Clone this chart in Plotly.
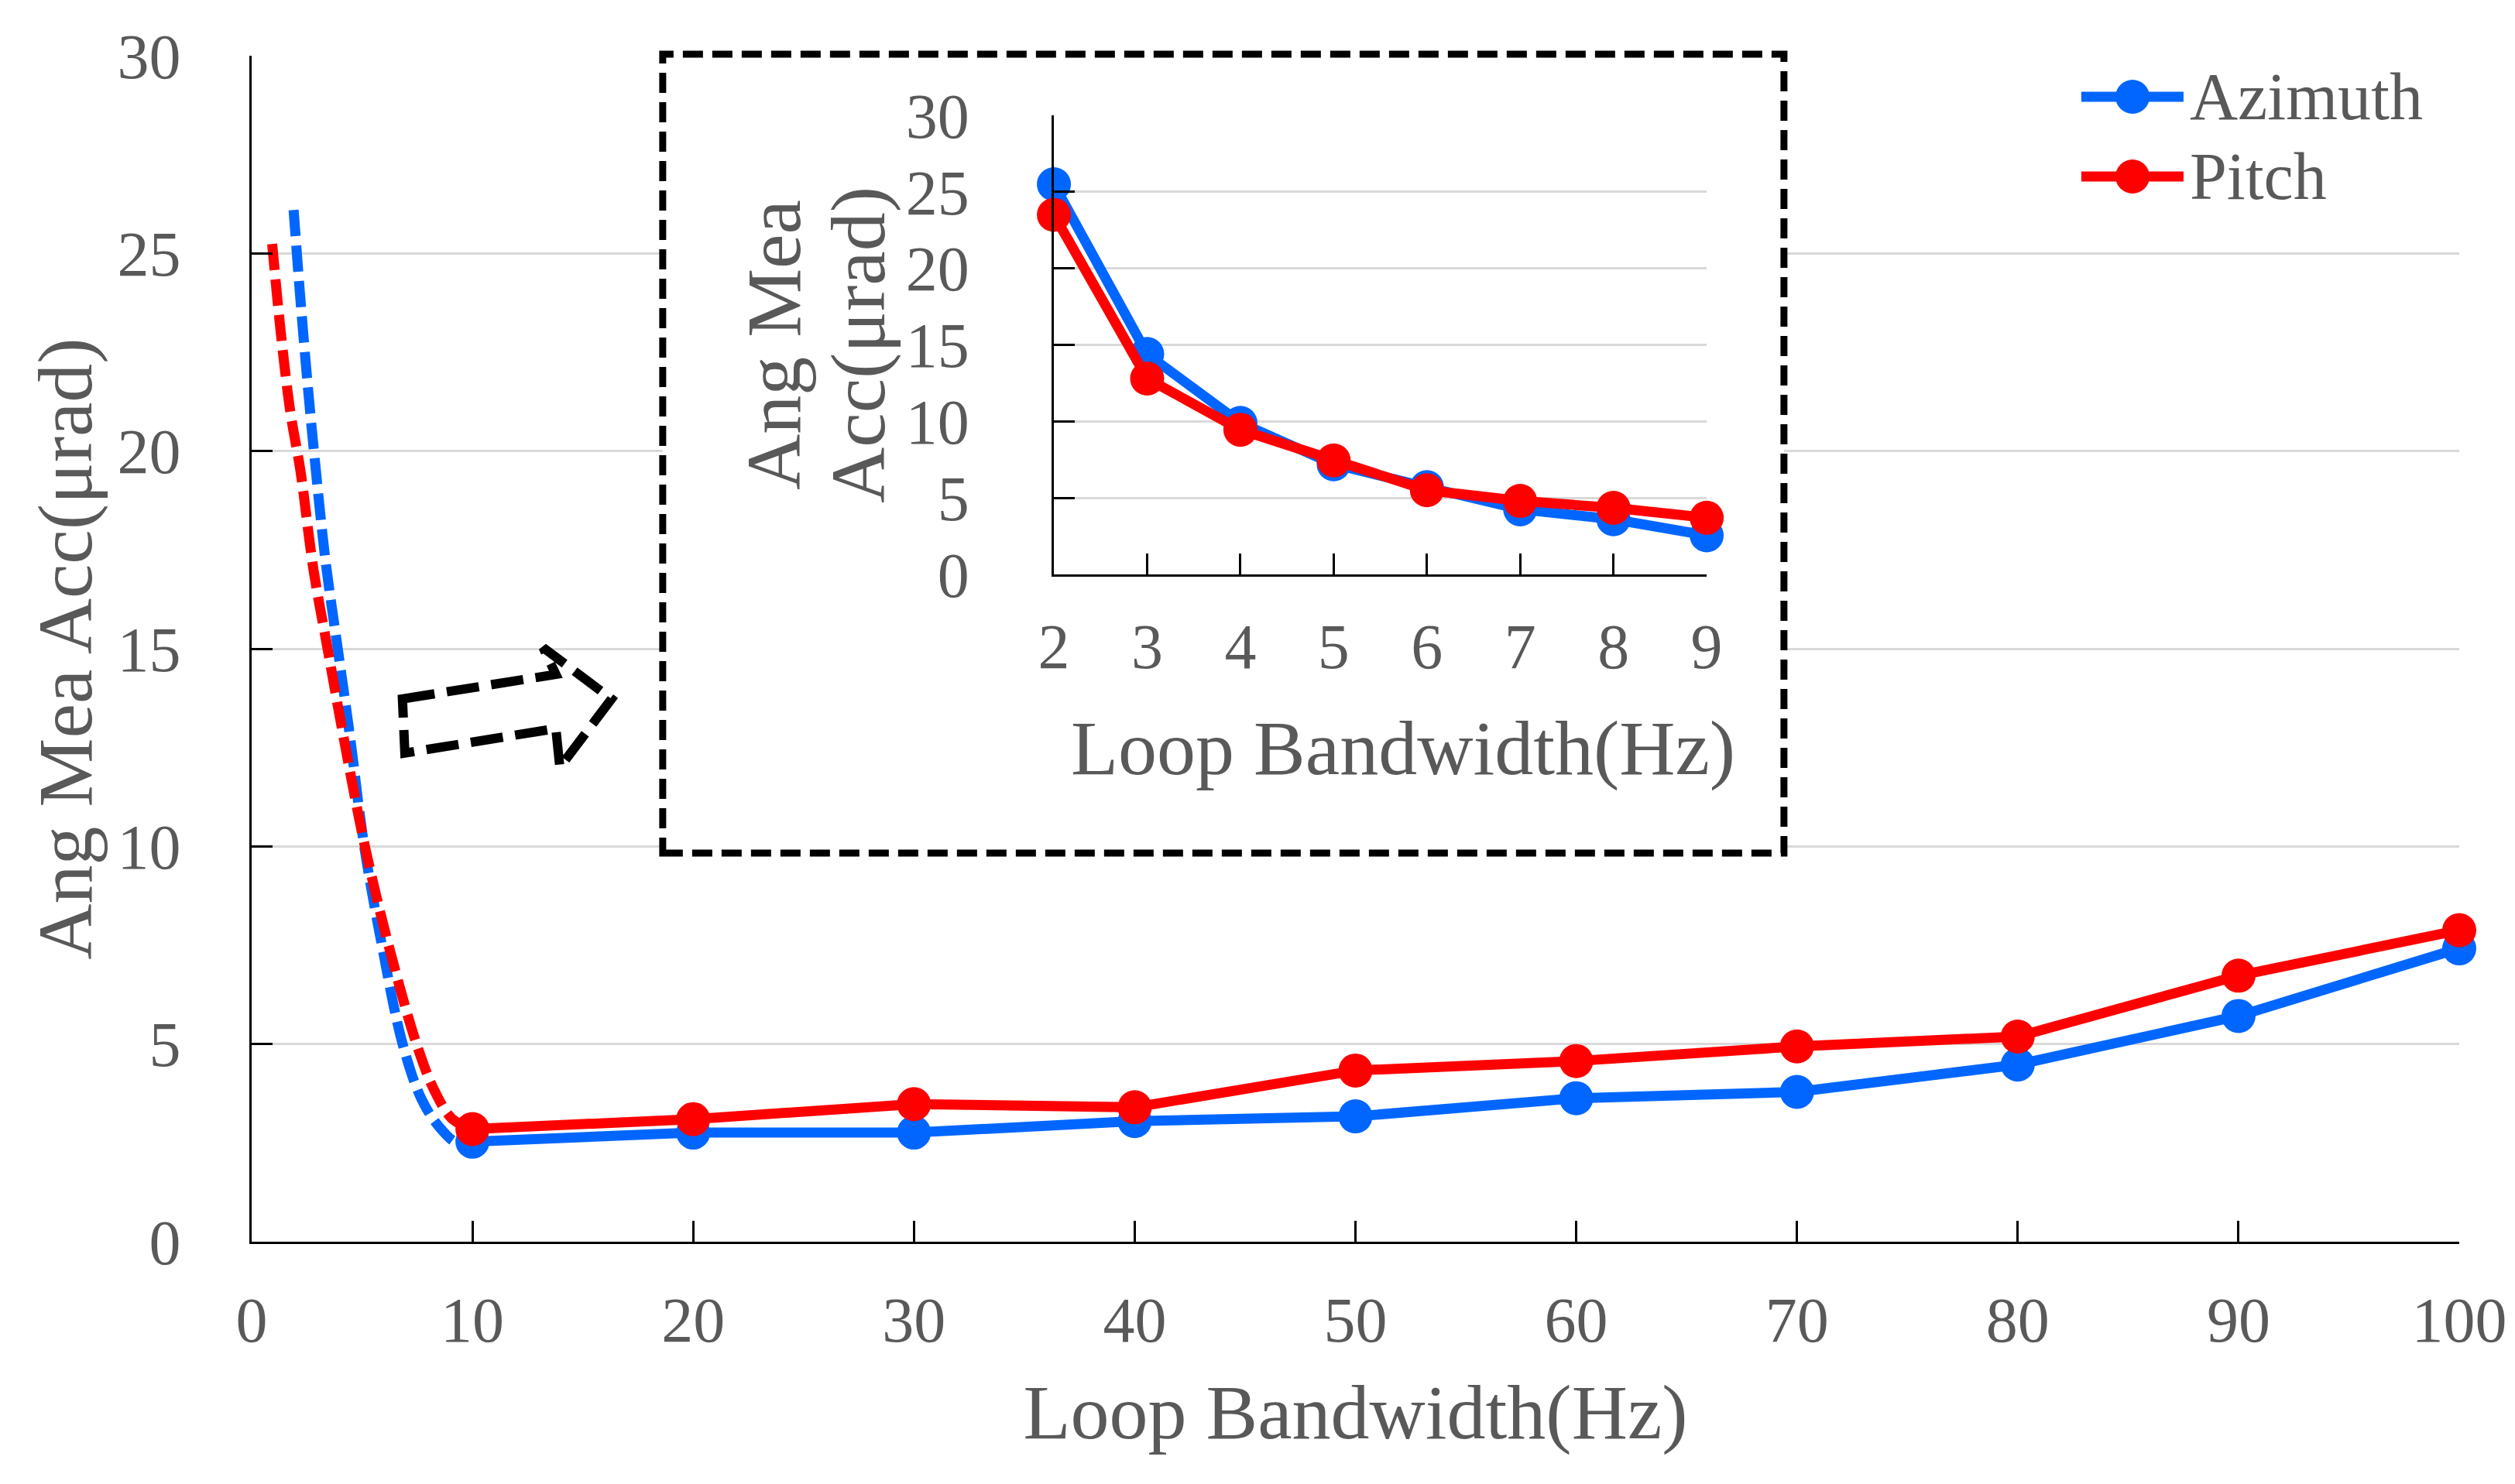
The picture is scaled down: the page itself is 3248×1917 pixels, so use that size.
import plotly.graph_objects as go

# ---------------- data ----------------
bw_main = [10, 20, 30, 40, 50, 60, 70, 80, 90, 100]
azimuth_main = [2.53, 2.76, 2.76, 3.05, 3.17, 3.63, 3.79, 4.48, 5.71, 7.42]
pitch_main = [2.85, 3.10, 3.48, 3.40, 4.33, 4.57, 4.94, 5.19, 6.73, 7.88]

bw_inset = [2, 3, 4, 5, 6, 7, 8, 9]
azimuth_inset = [25.5, 14.4, 9.9, 7.2, 5.7, 4.25, 3.6, 2.55]
pitch_inset = [23.5, 12.8, 9.45, 7.45, 5.5, 4.8, 4.35, 3.7]

# dashed low-bandwidth trend curves in the main panel
trend_az_x = [1.9, 2.2, 2.55, 2.91, 3.35, 3.9, 4.45, 5.1, 5.9, 6.84, 7.7, 8.5, 9.3, 10]
trend_az_y = [26.1, 23.9, 21.6, 19.5, 17.2, 15.0, 12.8, 10.0, 7.5, 5.0, 3.6, 2.9, 2.5, 2.53]
trend_pi_x = [0.93, 1.3, 1.75, 2.21, 2.8, 3.44, 4.25, 5.13, 6.2, 7.47, 8.3, 9.1, 10]
trend_pi_y = [25.24, 23.1, 21.0, 19.5, 17.0, 15.0, 12.5, 10.0, 7.5, 5.0, 3.8, 3.1, 2.85]

main_xticks = [0, 10, 20, 30, 40, 50, 60, 70, 80, 90, 100]
y_ticks = [0, 5, 10, 15, 20, 25, 30]
series_names = ["Azimuth", "Pitch"]

# ---------------- style ----------------
BLUE = "#0066FF"
RED = "#FF0000"
GRAY = "#595959"
FONT = "Liberation Serif"
LW = 13
MS = 44

fig = go.Figure()

# dashed trend curves
fig.add_trace(go.Scatter(x=trend_az_x, y=trend_az_y, mode="lines",
                         line=dict(color=BLUE, width=LW, dash="34px,12px", shape="spline"),
                         showlegend=False, hoverinfo="skip", cliponaxis=False))
fig.add_trace(go.Scatter(x=trend_pi_x, y=trend_pi_y, mode="lines",
                         line=dict(color=RED, width=LW, dash="34px,12px", shape="spline"),
                         showlegend=False, hoverinfo="skip", cliponaxis=False))

# main series
fig.add_trace(go.Scatter(x=bw_main, y=azimuth_main, mode="lines+markers", name=series_names[0],
                         line=dict(color=BLUE, width=LW), marker=dict(size=MS, color=BLUE),
                         showlegend=False, cliponaxis=False))
fig.add_trace(go.Scatter(x=bw_main, y=pitch_main, mode="lines+markers", name=series_names[1],
                         line=dict(color=RED, width=LW), marker=dict(size=MS, color=RED),
                         showlegend=False, cliponaxis=False))

# inset series
fig.add_trace(go.Scatter(x=bw_inset, y=azimuth_inset, mode="lines+markers", name=series_names[0],
                         line=dict(color=BLUE, width=LW), marker=dict(size=MS, color=BLUE),
                         xaxis="x2", yaxis="y2", showlegend=False, cliponaxis=False))
fig.add_trace(go.Scatter(x=bw_inset, y=pitch_inset, mode="lines+markers", name=series_names[1],
                         line=dict(color=RED, width=LW), marker=dict(size=MS, color=RED),
                         xaxis="x2", yaxis="y2", showlegend=False, cliponaxis=False))

tickfont = dict(family=FONT, size=82, color=GRAY)
titlefont = dict(family=FONT, size=100, color=GRAY)

fig.update_layout(
    width=3248, height=1917,
    margin=dict(l=317, r=80, t=64, b=321),
    paper_bgcolor="white", plot_bgcolor="white",
    showlegend=False,
    xaxis=dict(range=[0, 100], tickvals=main_xticks, ticks="inside", ticklen=27, tickwidth=3,
               tickcolor="black", showline=True, linecolor="black", linewidth=3,
               showgrid=False, zeroline=False, tickfont=tickfont, ticklabelstandoff=28,
               title=dict(text="Loop Bandwidth(Hz)", font=titlefont, standoff=38),
               automargin=False),
    yaxis=dict(range=[0, 30], tickvals=y_ticks, ticks="inside", ticklen=27, tickwidth=3,
               tickcolor="black", showline=True, linecolor="black", linewidth=3,
               showgrid=True, gridcolor="#d9d9d9", gridwidth=3, zeroline=False,
               tickfont=tickfont, ticklabelstandoff=72,
               title=dict(text="Ang Mea Acc(μrad)", font=titlefont, standoff=0),
               automargin=False),
    xaxis2=dict(domain=[0.3634, 0.6591], anchor="y2", range=[2, 9], tickvals=bw_inset,
                ticks="inside", ticklen=27, tickwidth=3, tickcolor="black",
                showline=True, linecolor="black", linewidth=3, showgrid=False, zeroline=False,
                tickfont=tickfont, ticklabelstandoff=20, automargin=False),
    yaxis2=dict(domain=[0.5627, 0.9497], anchor="x2", range=[0, 30], tickvals=y_ticks,
                ticks="inside", ticklen=27, tickwidth=3, tickcolor="black",
                showline=True, linecolor="black", linewidth=3,
                showgrid=True, gridcolor="#d9d9d9", gridwidth=3, zeroline=False,
                tickfont=tickfont, ticklabelstandoff=90, automargin=False),
)

shapes = []
# inset frame: white fill (covers main gridlines) + dashed outline on top (paper refs, not clipped)
shapes.append(dict(type="rect", xref="x", yref="y", x0=18.62, x1=69.41, y0=9.83, y1=30.04,
                   fillcolor="white", layer="between", line=dict(width=0)))
shapes.append(dict(type="rect", xref="paper", yref="paper", x0=0.1862, x1=0.6941, y0=0.3277, y1=1.0013,
                   fillcolor="rgba(0,0,0,0)", layer="above",
                   line=dict(color="black", width=9, dash="26px,12px")))
# dashed outline arrow pointing to the inset
shapes.append(dict(type="path", xref="x", yref="y",
                   path="M 6.83,13.73 L 13.78,14.35 L 13.2,15.03 L 16.3,13.73 L 13.96,12.0 L 13.78,12.98 L 6.94,12.36 Z",
                   line=dict(color="black", width=12, dash="42px,16px"), layer="above"))

# custom legend
leg_x0, leg_x1, leg_xm, leg_tx = 0.8288, 0.8751, 0.852, 0.8772
leg_rows = [(0.9654, BLUE, series_names[0]), (0.8982, RED, series_names[1])]
annotations = []
for ly, col, name in leg_rows:
    shapes.append(dict(type="line", xref="paper", yref="paper", x0=leg_x0, x1=leg_x1, y0=ly, y1=ly,
                       line=dict(color=col, width=LW), layer="above"))
    shapes.append(dict(type="circle", xref="paper", yref="paper", xsizemode="pixel", ysizemode="pixel",
                       xanchor=leg_xm, yanchor=ly, x0=-22, x1=22, y0=-22, y1=22,
                       fillcolor=col, line=dict(width=0), layer="above"))
    annotations.append(dict(xref="paper", yref="paper", x=leg_tx, y=ly, xanchor="left", yanchor="middle",
                            text=name, showarrow=False, font=dict(family=FONT, size=86, color=GRAY)))

# inset axis titles
annotations.append(dict(xref="paper", yref="paper", x=0.2364, y=0.7565, xanchor="center", yanchor="middle",
                        text="Ang Mea", textangle=-90, showarrow=False, font=titlefont))
annotations.append(dict(xref="paper", yref="paper", x=0.2746, y=0.7565, xanchor="center", yanchor="middle",
                        text="Acc(μrad)", textangle=-90, showarrow=False, font=titlefont))
annotations.append(dict(xref="paper", yref="paper", x=0.5216, y=0.416, xanchor="center", yanchor="middle",
                        text="Loop Bandwidth(Hz)", showarrow=False, font=titlefont))

fig.update_layout(shapes=shapes, annotations=annotations)

fig.write_html("out.html")
